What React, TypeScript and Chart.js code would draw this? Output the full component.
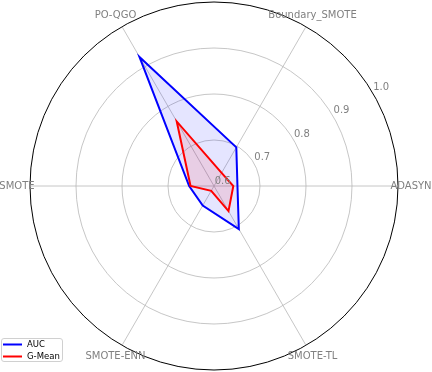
import React, { useEffect, useRef } from "react";
import { Chart, registerables } from "chart.js";

Chart.register(...registerables);

const categories = ["ADASYN", "SMOTE-TL", "SMOTE-ENN", "SMOTE", "PO-QGO", "Boundary_SMOTE"];
const aucValues = [0.651, 0.708, 0.649, 0.654, 0.924, 0.697];
const gmeanValues = [0.642, 0.663, 0.612, 0.651, 0.762, 0.633];
const tickValues = [0.6, 0.7, 0.8, 0.9, 1.0];
const seriesNames = ["AUC", "G-Mean"];
const seriesColors = ["#0000ff", "#ff0000"];
const seriesFills = ["rgba(0,0,255,0.1)", "rgba(255,0,0,0.1)"];

const FONT = "10px 'DejaVu Sans', sans-serif";

const labelsPlugin = {
  id: "customLabels",
  afterDraw(chart: any) {
    const scale = chart.scales.r;
    const ctx = chart.ctx;
    ctx.save();
    // point labels
    ctx.font = FONT;
    ctx.fillStyle = "#808080";
    ctx.textAlign = "center";
    ctx.textBaseline = "middle";
    categories.forEach((c, i) => {
      const p = scale.getPointPosition(i, scale.drawingArea + 13);
      ctx.fillText(c, p.x, p.y);
    });
    // tick labels
    const ang = (30.5 * Math.PI) / 180;
    tickValues.forEach((v) => {
      const d = scale.getDistanceFromCenterForValue(v) + 10;
      const x = scale.xCenter + d * Math.cos(ang);
      const y = scale.yCenter - d * Math.sin(ang);
      ctx.fillText(v.toFixed(1), x, y);
    });
    // legend
    const bx = 1.5, by = 338.5, bw = 61, bh = 23;
    ctx.beginPath();
    ctx.roundRect(bx, by, bw, bh, 2.5);
    ctx.fillStyle = "rgba(255,255,255,0.8)";
    ctx.fill();
    ctx.strokeStyle = "#d0d0d0";
    ctx.lineWidth = 1;
    ctx.stroke();
    const rows = [344.5, 356.5];
    ctx.font = "8.5px 'DejaVu Sans', sans-serif";
    ctx.textAlign = "left";
    seriesNames.forEach((n, i) => {
      ctx.beginPath();
      ctx.moveTo(3, rows[i]);
      ctx.lineTo(22, rows[i]);
      ctx.strokeStyle = seriesColors[i];
      ctx.lineWidth = 2;
      ctx.stroke();
      ctx.fillStyle = "#000";
      ctx.fillText(n, 27, rows[i] + 0.5);
    });
    ctx.restore();
  },
};

export default function App() {
  const ref = useRef<HTMLCanvasElement | null>(null);
  useEffect(() => {
    if (!ref.current) return;
    const chart = new Chart(ref.current, {
      type: "radar",
      data: {
        labels: categories,
        datasets: [
          {
            label: seriesNames[0],
            data: aucValues,
            borderColor: seriesColors[0],
            backgroundColor: seriesFills[0],
            borderWidth: 2,
            fill: true,
            pointRadius: 0,
            order: 2,
          },
          {
            label: seriesNames[1],
            data: gmeanValues,
            borderColor: seriesColors[1],
            backgroundColor: seriesFills[1],
            borderWidth: 2,
            fill: true,
            pointRadius: 0,
            order: 1,
          },
        ],
      },
      options: {
        responsive: false,
        animation: false,
        devicePixelRatio: 1,
        layout: { padding: { left: 0, right: 4, top: 2, bottom: 2 } },
        plugins: { legend: { display: false }, tooltip: { enabled: false } },
        elements: { line: { tension: 0 } },
        scales: {
          r: {
            min: 0.6,
            max: 1.0,
            startAngle: 90,
            ticks: { stepSize: 0.1, display: false },
            pointLabels: { display: false },
            grid: {
              circular: true,
              color: (ctx: any) => (ctx.tick && ctx.tick.value >= 0.999 ? "#000000" : "#b8b8b8"),
              lineWidth: (ctx: any) => (ctx.tick && ctx.tick.value >= 0.999 ? 1 : 0.8),
            },
            angleLines: { color: "#b8b8b8", lineWidth: 0.8 },
          },
        },
      },
      plugins: [labelsPlugin],
    });
    return () => chart.destroy();
  }, []);
  return (
    <div style={{ position: "fixed", left: 0, top: 0, width: 432, height: 372, background: "#fff" }}>
      <canvas ref={ref} width={432} height={372} />
    </div>
  );
}
